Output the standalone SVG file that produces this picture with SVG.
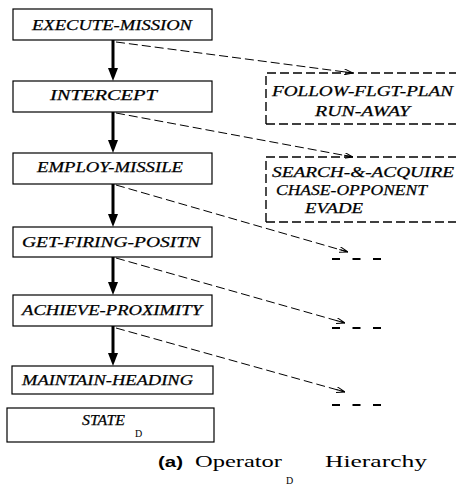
<svg xmlns="http://www.w3.org/2000/svg" width="456" height="486" viewBox="0 0 456 486">
<defs>
<style>
.box{fill:#fff;stroke:#000;stroke-width:1.2}
.dbox{fill:none;stroke:#000;stroke-width:1.4;stroke-dasharray:9 4}
.lbl{font-family:"Liberation Serif","Times New Roman",serif;font-style:italic;font-size:15px;fill:#000;stroke:#000;stroke-width:0.25}
.sub{font-family:"Liberation Serif","Times New Roman",serif;font-size:10px;fill:#000}
.main{stroke:#000;stroke-width:3;fill:none}
.dash{stroke:#000;stroke-width:1;stroke-dasharray:9 4;fill:none}
.more{stroke:#000;stroke-width:2.2;stroke-dasharray:8 12.5;fill:none}
.cap{font-family:"Liberation Serif","Times New Roman",serif;font-size:16px;fill:#000}
.capb{font-family:"Liberation Sans",Arial,sans-serif;font-weight:bold;font-size:14px;fill:#000}
</style>
<marker id="thick" viewBox="0 0 10 13" markerWidth="10" markerHeight="13" refX="5" refY="0" orient="0" markerUnits="userSpaceOnUse">
<path d="M0,0 L10,0 L5,13 z" fill="#000"/>
</marker>
<marker id="thin" viewBox="0 0 9 6" markerWidth="9" markerHeight="6" refX="9" refY="3" orient="auto" markerUnits="userSpaceOnUse">
<path d="M0,0 L9,3 L0,6 M0,3 L9,3" fill="none" stroke="#000" stroke-width="1"/>
</marker>
</defs>

<g id="connectors">
<line class="main" x1="113" y1="40" x2="113" y2="68" marker-end="url(#thick)"/>
<line class="main" x1="113" y1="112" x2="113" y2="140" marker-end="url(#thick)"/>
<line class="main" x1="113" y1="184" x2="113" y2="214" marker-end="url(#thick)"/>
<line class="main" x1="113" y1="257" x2="113" y2="282" marker-end="url(#thick)"/>
<line class="main" x1="113" y1="326" x2="113" y2="353" marker-end="url(#thick)"/>
<line class="dash" x1="116" y1="42" x2="353" y2="73" marker-end="url(#thin)"/>
<line class="dash" x1="116" y1="113" x2="353" y2="157" marker-end="url(#thin)"/>
<line class="dash" x1="116" y1="185" x2="348" y2="252" marker-end="url(#thin)"/>
<line class="dash" x1="116" y1="258" x2="345" y2="323" marker-end="url(#thin)"/>
<line class="dash" x1="116" y1="328" x2="345" y2="392" marker-end="url(#thin)"/>
<line class="more" x1="332" y1="259" x2="381" y2="259"/>
<line class="more" x1="332" y1="328" x2="381" y2="328"/>
<line class="more" x1="332" y1="405" x2="381" y2="405"/>
</g>

<g id="execute-mission">
<rect class="box" x="13" y="9" width="199" height="31"/>
<text class="lbl" x="32" y="30" textLength="160" lengthAdjust="spacingAndGlyphs">EXECUTE-MISSION</text>
</g>
<g id="intercept">
<rect class="box" x="13" y="81" width="199" height="31"/>
<text class="lbl" x="50" y="100" textLength="107" lengthAdjust="spacingAndGlyphs">INTERCEPT</text>
</g>
<g id="employ-missile">
<rect class="box" x="13" y="153" width="199" height="31"/>
<text class="lbl" x="37" y="172" textLength="146" lengthAdjust="spacingAndGlyphs">EMPLOY-MISSILE</text>
</g>
<g id="get-firing-positn">
<rect class="box" x="13" y="227" width="199" height="30"/>
<text class="lbl" x="22" y="247" textLength="178" lengthAdjust="spacingAndGlyphs">GET-FIRING-POSITN</text>
</g>
<g id="achieve-proximity">
<rect class="box" x="13" y="295" width="199" height="31"/>
<text class="lbl" x="22" y="315" textLength="180" lengthAdjust="spacingAndGlyphs">ACHIEVE-PROXIMITY</text>
</g>
<g id="maintain-heading">
<rect class="box" x="12" y="366" width="201" height="28"/>
<text class="lbl" x="22" y="385" textLength="171" lengthAdjust="spacingAndGlyphs">MAINTAIN-HEADING</text>
</g>
<g id="state-d">
<rect class="box" x="7" y="408" width="207" height="34"/>
<text class="lbl" x="82" y="425" textLength="43" lengthAdjust="spacingAndGlyphs">STATE</text>
<text class="sub" x="135" y="437">D</text>
</g>

<g id="alt-1">
<path class="dbox" d="M266,124 V73 H470 M266,124 H470"/>
<text class="lbl" x="272" y="96" textLength="181" lengthAdjust="spacingAndGlyphs">FOLLOW-FLGT-PLAN</text>
<text class="lbl" x="315" y="116" textLength="95" lengthAdjust="spacingAndGlyphs">RUN-AWAY</text>
</g>
<g id="alt-2">
<path class="dbox" d="M266,222 V157 H470 M266,222 H470"/>
<text class="lbl" x="272" y="177" textLength="182" lengthAdjust="spacingAndGlyphs">SEARCH-&amp;-ACQUIRE</text>
<text class="lbl" x="276" y="195" textLength="151" lengthAdjust="spacingAndGlyphs">CHASE-OPPONENT</text>
<text class="lbl" x="305" y="213" textLength="58" lengthAdjust="spacingAndGlyphs">EVADE</text>
</g>

<g id="caption">
<text class="capb" x="158" y="467" textLength="25" lengthAdjust="spacingAndGlyphs">(a)</text>
<text class="cap" x="195" y="467" textLength="87" lengthAdjust="spacingAndGlyphs">Operator</text>
<text class="sub" x="286" y="484">D</text>
<text class="cap" x="325" y="467" textLength="102" lengthAdjust="spacingAndGlyphs">Hierarchy</text>
</g>
</svg>
